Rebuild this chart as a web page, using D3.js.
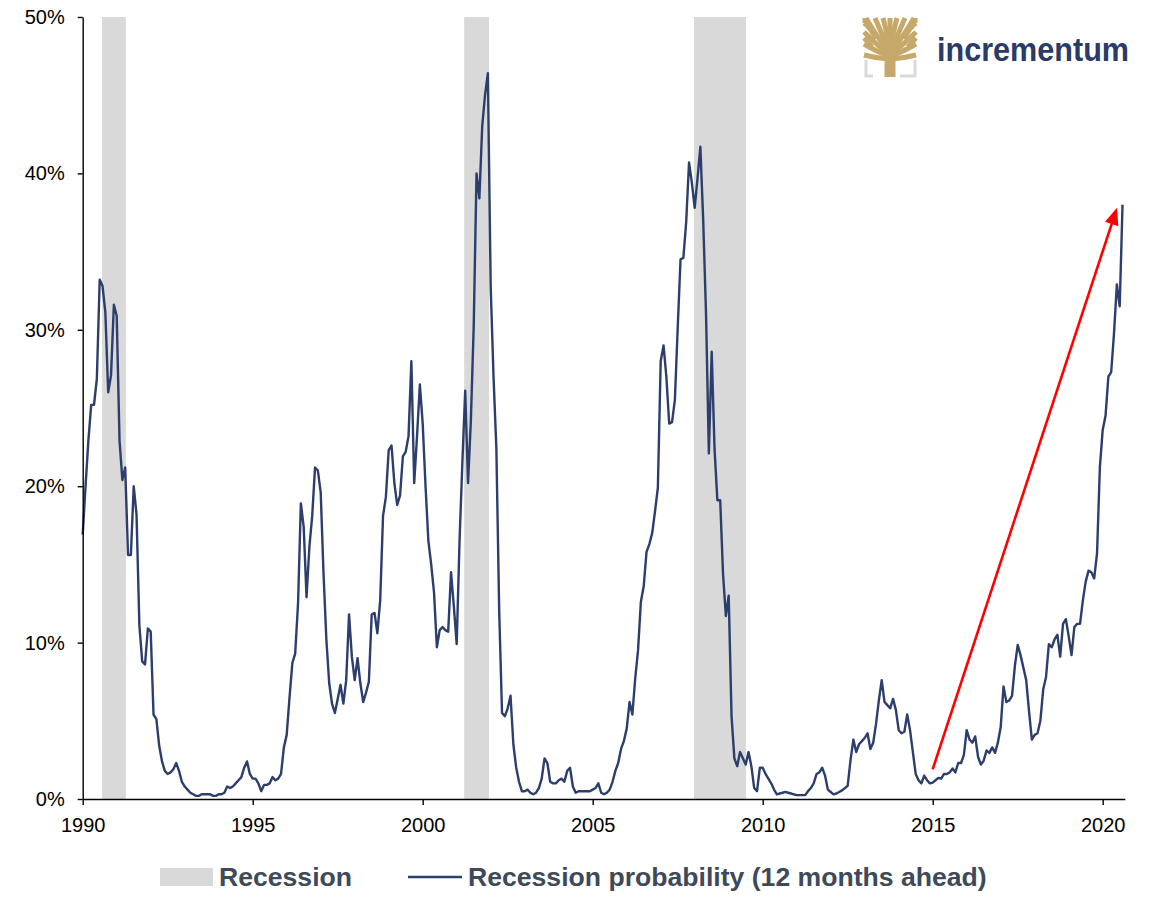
<!DOCTYPE html>
<html>
<head>
<meta charset="utf-8">
<script src="https://cdn.jsdelivr.net/npm/d3@7/dist/d3.min.js"></script>
<style>
  html, body { margin: 0; padding: 0; background: #ffffff; }
  svg { display: block; font-family: "Liberation Sans", Arial, sans-serif; }
</style>
</head>
<body>
<svg id="chart" width="1153" height="919"></svg>
<script>
// ---------------- DATA ----------------
// Monthly recession probability (12 months ahead), in percent, Jan 1990 .. Aug 2020
const seriesStartYear = 1990;
const probability = [
  16.9, 20.0, 22.9, 25.2, 25.2, 26.9, 33.2, 32.8, 31.1, 26.0, 27.1, 31.6,   // 1990
  30.9, 22.9, 20.4, 21.2, 15.6, 15.6, 20.0, 18.2, 11.1, 8.8, 8.6, 10.9,     // 1991
  10.7, 5.4, 5.1, 3.4, 2.4, 1.8, 1.6, 1.7, 1.9, 2.3, 1.8, 1.1,              // 1992
  0.8, 0.6, 0.4, 0.3, 0.2, 0.2, 0.3, 0.3, 0.3, 0.3, 0.2, 0.2,               // 1993
  0.3, 0.3, 0.4, 0.8, 0.7, 0.8, 1.0, 1.2, 1.4, 2.0, 2.4, 1.6,               // 1994
  1.3, 1.3, 1.0, 0.5, 0.9, 0.9, 1.0, 1.4, 1.2, 1.3, 1.6, 3.3,               // 1995
  4.1, 6.5, 8.7, 9.3, 12.5, 18.9, 17.4, 12.9, 16.1, 18.1, 21.2, 21.0,       // 1996
  19.6, 14.4, 10.2, 7.4, 6.1, 5.5, 6.4, 7.3, 6.1, 7.6, 11.8, 9.1,          // 1997
  7.6, 9.0, 7.4, 6.2, 6.8, 7.5, 11.8, 11.9, 10.6, 12.7, 18.1, 19.3,         // 1998
  22.3, 22.6, 20.2, 18.8, 19.4, 21.9, 22.2, 23.2, 28.0, 20.2, 23.2, 26.5,   // 1999
  24.0, 20.0, 16.5, 15.0, 13.2, 9.7, 10.8, 11.0, 10.8, 10.7, 14.5, 12.3,    // 2000
  9.9, 16.5, 21.5, 26.1, 20.2, 24.2, 30.2, 40.0, 38.4, 43.0, 45.0, 46.4,    // 2001
  32.7, 27.0, 22.4, 12.0, 5.5, 5.3, 5.8, 6.6, 3.5, 2.0, 1.1, 0.5,           // 2002
  0.5, 0.6, 0.4, 0.3, 0.4, 0.7, 1.3, 2.6, 2.3, 1.1, 1.0, 1.0,               // 2003
  1.2, 1.3, 1.1, 1.8, 2.0, 0.8, 0.4, 0.5, 0.5, 0.5, 0.5, 0.5,               // 2004
  0.6, 0.7, 1.0, 0.4, 0.3, 0.4, 0.6, 1.1, 1.8, 2.3, 3.2, 3.7,               // 2005
  4.5, 6.2, 5.4, 7.7, 9.5, 12.6, 13.6, 15.8, 16.3, 17.0, 18.4, 19.9,        // 2006
  28.0, 29.0, 27.0, 24.0, 24.1, 25.5, 30.1, 34.5, 34.6, 36.9, 40.7, 39.4,   // 2007
  37.8, 39.7, 41.7, 37.0, 31.0, 22.1, 28.6, 22.4, 19.1, 19.1, 14.4, 11.7,   // 2008
  13.0, 5.3, 2.6, 2.1, 3.0, 2.6, 2.2, 3.0, 2.1, 0.7, 0.5, 2.0,              // 2009
  2.0, 1.6, 1.3, 1.0, 0.6, 0.3, 0.35, 0.4, 0.45, 0.4, 0.35, 0.3,            // 2010
  0.25, 0.25, 0.25, 0.25, 0.5, 0.7, 1.0, 1.6, 1.7, 2.0, 1.5, 0.6,           // 2011
  0.45, 0.3, 0.35, 0.45, 0.55, 0.7, 0.85, 2.5, 3.8, 3.0, 3.5, 3.7,          // 2012
  3.9, 4.2, 3.2, 3.6, 4.8, 6.3, 7.6, 6.2, 6.0, 5.8, 6.4, 5.7,               // 2013
  4.4, 4.2, 4.3, 5.4, 4.4, 3.0, 1.6, 1.2, 1.0, 1.5, 1.2, 1.0,               // 2014
  1.05, 1.2, 1.35, 1.3, 1.6, 1.6, 1.7, 1.95, 1.7, 2.3, 2.3, 2.8,            // 2015
  4.4, 3.8, 3.6, 4.0, 2.7, 2.2, 2.45, 3.1, 2.95, 3.3, 2.95, 3.6,            // 2016
  4.6, 7.2, 6.2, 6.3, 6.6, 8.5, 9.85, 9.2, 8.4, 7.6, 5.6, 3.8,              // 2017
  4.1, 4.2, 5.0, 7.0, 7.8, 9.9, 9.7, 10.2, 10.5, 9.1, 11.2, 11.5,           // 2018
  10.4, 9.2, 11.0, 11.2, 11.2, 12.7, 13.9, 14.6, 14.5, 14.1, 15.7, 21.2,    // 2019
  23.6, 24.5, 27.0, 27.3, 29.8, 32.9, 31.5, 38.0                            // 2020
];
// Recession periods (decimal years, as shaded in the chart)
const recessionStarts = [1990.57, 2001.22, 2007.98];
const recessionEnds   = [1991.27, 2001.95, 2009.51];
// Axis ticks
const xTickValues = [1990, 1995, 2000, 2005, 2010, 2015, 2020];
const yTickValues = [0, 10, 20, 30, 40, 50];
// Legend labels
const legendLabels = ["Recession", "Recession probability (12 months ahead)"];
// Annotation arrow: [decimal year, percent]
const arrowFrom = [2015.0, 1.9];
const arrowTo   = [2020.42, 37.8];
const logoText = "incrementum";

// ---------------- CHART ----------------
const svg = d3.select("#chart");
svg.append("rect").attr("width", 1153).attr("height", 919).attr("fill", "#ffffff");

const lineColor = "#2C3E6B";
const x = d3.scaleLinear().domain([1990, 2020.65]).range([82.7, 82.7 + 30.65 * 34]);
const y = d3.scaleLinear().domain([0, 50]).range([799, 17]);

const points = probability.map((v, i) => ({ t: seriesStartYear + i / 12, v }));

// Recession bands
svg.append("g").selectAll("rect")
  .data(recessionStarts.map((s, i) => ({ s, e: recessionEnds[i] })))
  .join("rect")
  .attr("x", d => x(d.s))
  .attr("width", d => x(d.e) - x(d.s))
  .attr("y", y(50))
  .attr("height", y(0) - y(50))
  .attr("fill", "#D9D9D9");

// Line
svg.append("path")
  .datum(points)
  .attr("fill", "none")
  .attr("stroke", lineColor)
  .attr("stroke-width", 2.4)
  .attr("stroke-linejoin", "round")
  .attr("d", d3.line().x(d => x(d.t)).y(d => y(d.v)));

// Axes
const yAxis = svg.append("g")
  .attr("transform", `translate(${x(1990)},0)`)
  .call(d3.axisLeft(y).tickValues(yTickValues).tickFormat(d => d + "%")
    .tickSize(5).tickPadding(13).tickSizeOuter(0));
const xAxis = svg.append("g")
  .attr("transform", `translate(0,${y(0)})`)
  .call(d3.axisBottom(x).tickValues(xTickValues).tickFormat(d3.format("d"))
    .tickSize(6).tickPadding(13).tickSizeOuter(0));
[xAxis, yAxis].forEach(a => {
  a.select(".domain").attr("stroke", "#000").attr("stroke-width", 1.4);
  a.selectAll(".tick line").attr("stroke", "#000").attr("stroke-width", 1.4);
  a.selectAll(".tick text").attr("fill", "#000").attr("font-size", 20)
    .attr("font-family", "Liberation Sans, Arial, sans-serif");
});

// Arrow annotation
(function drawArrow() {
  const x1 = x(arrowFrom[0]), y1 = y(arrowFrom[1]);
  const x2 = x(arrowTo[0]), y2 = y(arrowTo[1]);
  const dx = x2 - x1, dy = y2 - y1, len = Math.hypot(dx, dy);
  const ux = dx / len, uy = dy / len;
  const headLen = 17, headHalf = 7;
  const bx = x2 - ux * headLen, by = y2 - uy * headLen;
  svg.append("line")
    .attr("x1", x1).attr("y1", y1).attr("x2", bx + ux * 2).attr("y2", by + uy * 2)
    .attr("stroke", "#FF0000").attr("stroke-width", 2.6);
  svg.append("path")
    .attr("d", `M${x2},${y2} L${bx - uy * headHalf},${by + ux * headHalf} L${bx + uy * headHalf},${by - ux * headHalf} Z`)
    .attr("fill", "#FF0000");
})();

// Legend
const legendColor = "#3E4959";
const lg = svg.append("g").attr("font-weight", "bold").attr("font-size", 26.6)
  .attr("font-family", "Liberation Sans, Arial, sans-serif");
lg.append("rect").attr("x", 160).attr("y", 868).attr("width", 53).attr("height", 18).attr("fill", "#D9D9D9");
lg.append("text").attr("x", 219).attr("y", 886).attr("fill", legendColor).text(legendLabels[0]);
lg.append("line").attr("x1", 408).attr("x2", 462).attr("y1", 877).attr("y2", 877)
  .attr("stroke", lineColor).attr("stroke-width", 2.4);
lg.append("text").attr("x", 468).attr("y", 886).attr("fill", legendColor).text(legendLabels[1]);

// Logo
const gold = "#C6A86B";
const logo = svg.append("g").attr("transform", "translate(864,17)");
logo.append("path").attr("d", "M2,43 L2,59 L9,59").attr("fill", "none")
  .attr("stroke", "#D9D9D9").attr("stroke-width", 3);
logo.append("path").attr("d", "M51,43 L51,59 L36,59").attr("fill", "none")
  .attr("stroke", "#D9D9D9").attr("stroke-width", 3);
const canopy = logo.append("g").attr("fill", "none").attr("stroke", gold)
  .attr("stroke-width", 5).attr("stroke-linecap", "butt");
const branches = [
  "M24,42 Q12,41 0,38", "M24,39 Q10,33 0,27", "M24,37 Q11,26 0,15",
  "M25,35 Q11,17 2,1", "M25,33 Q17,15 11,1", "M26,31 Q22,12 19,1",
  "M26,36 L26,1",
  "M28,42 Q40,41 52,38", "M28,39 Q42,33 52,27", "M28,37 Q41,26 52,15",
  "M27,35 Q41,17 50,1", "M27,33 Q35,15 41,1", "M26,31 Q30,12 33,1",
  "M8,30 Q3,24 0,21", "M44,30 Q49,24 52,21", "M12,22 Q6,10 0,6", "M40,22 Q46,10 52,6",
  "M1,1 L1,6", "M51,1 L51,6"
];
branches.forEach(d => canopy.append("path").attr("d", d));
logo.append("path").attr("d", "M20.5,60 L20.5,44 Q20.5,37 26,34 Q31.5,37 31.5,44 L31.5,60 Z").attr("fill", gold);
svg.append("text").attr("x", 937).attr("y", 61)
  .attr("font-size", 33).attr("font-weight", "bold").attr("fill", "#2B3A66")
  .attr("font-family", "Liberation Sans, Arial, sans-serif")
  .attr("textLength", 192).attr("lengthAdjust", "spacingAndGlyphs")
  .text(logoText);
</script>
</body>
</html>
